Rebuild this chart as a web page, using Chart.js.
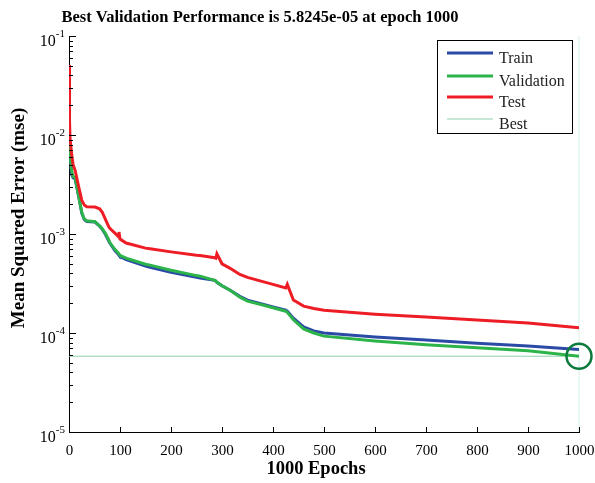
<!DOCTYPE html>
<html>
<head>
<meta charset="utf-8">
<script src="https://cdn.jsdelivr.net/npm/chart.js@4/dist/chart.umd.min.js"></script>
<style>
  html, body { margin: 0; padding: 0; background: #fff; }
  #wrap { width: 595px; height: 483px; }
</style>
</head>
<body>
<div id="wrap"><canvas id="perfChart" width="595" height="483"></canvas></div>
<script>
/* ===== DATA ===== */
const epochs = [0, 1, 2, 5, 8, 12, 19, 25, 30, 35, 51, 60, 65, 71, 78, 80, 90, 97, 98, 100,
  112, 150, 159, 200, 250, 257, 286, 288, 290, 300, 316, 335, 350, 380, 400, 425, 428, 440,
  460, 480, 500, 600, 700, 800, 900, 1000];

const trainMse = [9.5e-3, 7.5e-3, 6.3e-3, 4.0e-3, 3.7e-3, 3.6e-3, 2.4e-3, 1.63e-3, 1.40e-3, 1.34e-3,
  1.32e-3, 1.20e-3, 1.12e-3, 1.0e-3, 8.5e-4, 8.1e-4, 6.8e-4, 6.2e-4, 6.1e-4, 5.9e-4,
  5.5e-4, 4.75e-4, 4.6e-4, 4.1e-4, 3.65e-4, 3.6e-4, 3.4e-4, 3.35e-4, 3.25e-4, 3.0e-4,
  2.7e-4, 2.35e-4, 2.15e-4, 1.95e-4, 1.83e-4, 1.70e-4, 1.66e-4, 1.41e-4,
  1.15e-4, 1.05e-4, 1.0e-4, 9.1e-5, 8.5e-5, 7.9e-5, 7.4e-5, 6.8e-5];

const validationMse = [1.0e-2, 8.0e-3, 6.5e-3, 4.4e-3, 3.8e-3, 3.7e-3, 2.4e-3, 1.66e-3, 1.42e-3, 1.36e-3,
  1.33e-3, 1.21e-3, 1.13e-3, 1.02e-3, 8.7e-4, 8.2e-4, 7.0e-4, 6.4e-4, 6.3e-4, 6.1e-4,
  5.7e-4, 4.95e-4, 4.85e-4, 4.3e-4, 3.8e-4, 3.75e-4, 3.4e-4, 3.35e-4, 3.25e-4, 3.0e-4,
  2.7e-4, 2.3e-4, 2.1e-4, 1.92e-4, 1.80e-4, 1.66e-4, 1.62e-4, 1.36e-4,
  1.1e-4, 1.0e-4, 9.3e-5, 8.3e-5, 7.6e-5, 7.1e-5, 6.6e-5, 5.8245e-5];

const testMse = [5.1e-2, 1.4e-2, 9.3e-3, 6.6e-3, 5.0e-3, 4.4e-3, 3.0e-3, 2.2e-3, 1.96e-3, 1.88e-3,
  1.87e-3, 1.80e-3, 1.67e-3, 1.42e-3, 1.18e-3, 1.14e-3, 1.02e-3, 9.4e-4, 1.05e-3, 8.9e-4,
  8.1e-4, 7.2e-4, 7.1e-4, 6.6e-4, 6.1e-4, 6.05e-4, 5.75e-4, 5.7e-4, 6.3e-4, 5.0e-4,
  4.5e-4, 3.9e-4, 3.65e-4, 3.3e-4, 3.1e-4, 2.85e-4, 3.1e-4, 2.15e-4,
  1.87e-4, 1.77e-4, 1.70e-4, 1.55e-4, 1.45e-4, 1.35e-4, 1.26e-4, 1.13e-4];

const bestEpoch = 1000;
const bestPerf = 5.8245e-5;

const seriesNames = ["Train", "Validation", "Test", "Best"];
const xTicks = [0, 100, 200, 300, 400, 500, 600, 700, 800, 900, 1000];
const yExponents = [-1, -2, -3, -4, -5];

const titleText = "Best Validation Performance is 5.8245e-05 at epoch 1000";
const xTitle = "1000 Epochs";
const yTitle = "Mean Squared Error (mse)";

/* ===== COLOURS ===== */
const blue = "#2a4aa6";
const green = "#2cb34a";
const red = "#ee1d25";
const bestCol = "#8fd0ae";
const circleCol = "#0b7a3d";
const serif = "'Liberation Serif', 'Times New Roman', serif";

function pts(values) {
  return epochs.map((e, i) => ({ x: e, y: values[i] }));
}

/* ===== MATLAB STYLE AXES / LEGEND ===== */
const matlabAxes = {
  id: "matlabAxes",
  afterDraw(chart) {
    const ctx = chart.ctx;
    const xs = chart.scales.x;
    const ys = chart.scales.y;
    const area = chart.chartArea;
    ctx.save();
    ctx.strokeStyle = "#000";
    ctx.fillStyle = "#000";
    ctx.lineWidth = 1;

    // y ticks (inward) + labels
    for (let p = -5; p <= -1; p++) {
      for (let m = 1; m <= 9; m++) {
        const v = m * Math.pow(10, p);
        if (v > 0.1000001) break;
        const y = Math.round(ys.getPixelForValue(v)) + 0.5;
        const len = m === 1 ? 7 : 4;
        ctx.beginPath();
        ctx.moveTo(area.left, y);
        ctx.lineTo(area.left + len, y);
        ctx.stroke();
      }
    }
    yExponents.forEach((p) => {
      const y = ys.getPixelForValue(Math.pow(10, p));
      ctx.font = "11px " + serif;
      ctx.textAlign = "right";
      ctx.textBaseline = "alphabetic";
      const expStr = String(p);
      const expW = ctx.measureText(expStr).width;
      const right = area.left - 4;
      ctx.fillText(expStr, right, y + 1);
      ctx.font = "16px " + serif;
      ctx.fillText("10", right - expW, y + 10);
    });

    // x ticks (inward) + labels
    ctx.font = "15px " + serif;
    ctx.textAlign = "center";
    ctx.textBaseline = "alphabetic";
    xTicks.forEach((t) => {
      const x = Math.round(xs.getPixelForValue(t)) + 0.5;
      ctx.beginPath();
      ctx.moveTo(x, area.bottom);
      ctx.lineTo(x, area.bottom - 5);
      ctx.stroke();
      ctx.fillText(String(t), x, area.bottom + 23);
    });

    // titles
    ctx.font = "bold 16.5px " + serif;
    ctx.fillText(titleText, 260, 22);
    ctx.font = "bold 18.5px " + serif;
    ctx.fillText(xTitle, 316, 474);
    ctx.save();
    ctx.translate(24, 218);
    ctx.rotate(-Math.PI / 2);
    ctx.font = "bold 19px " + serif;
    ctx.fillText(yTitle, 0, 0);
    ctx.restore();

    // legend
    const lx = 437.5, ly = 40.5, lw = 135, lh = 93;
    ctx.fillStyle = "#fff";
    ctx.fillRect(lx, ly, lw, lh);
    ctx.strokeStyle = "#000";
    ctx.strokeRect(lx, ly, lw, lh);
    const rows = [53, 76, 97, 119];
    const cols = [blue, green, red, bestCol];
    ctx.font = "16px " + serif;
    ctx.textAlign = "left";
    rows.forEach((ry, i) => {
      ctx.strokeStyle = cols[i];
      ctx.lineWidth = i === 3 ? 1 : 3;
      ctx.beginPath();
      ctx.moveTo(447, ry);
      ctx.lineTo(493, ry);
      ctx.stroke();
      ctx.fillStyle = "#222";
      ctx.fillText(seriesNames[i], 499, ry + 10);
    });
    ctx.restore();
  },
};

/* ===== CHART ===== */
const ctx = document.getElementById("perfChart").getContext("2d");
const perfChart = new Chart(ctx, {
  type: "line",
  data: {
    datasets: [
      { label: "Test", data: pts(testMse), borderColor: red, borderWidth: 3, order: 0 },
      { label: "Validation", data: pts(validationMse), borderColor: green, borderWidth: 3, order: 1 },
      { label: "Train", data: pts(trainMse), borderColor: blue, borderWidth: 3, order: 2 },
      {
        label: "Best",
        data: [{ x: 0, y: bestPerf }, { x: bestEpoch, y: bestPerf }],
        borderColor: bestCol, borderWidth: 1, order: 3,
      },
      {
        label: "Best epoch",
        data: [{ x: bestEpoch, y: 1e-5 }, { x: bestEpoch, y: 1e-1 }],
        borderColor: "#d6eee2", borderWidth: 1, order: 4, clip: false,
      },
      {
        label: "Best point",
        type: "scatter",
        data: [{ x: bestEpoch, y: bestPerf }],
        pointRadius: 12.5,
        pointBorderWidth: 2.5,
        pointBorderColor: circleCol,
        pointBackgroundColor: "rgba(0,0,0,0)",
        clip: false,
        order: -1,
      },
    ],
  },
  options: {
    responsive: false,
    animation: false,
    layout: { padding: { left: 69, right: 16, top: 36, bottom: 51 } },
    elements: { point: { radius: 0 }, line: { tension: 0 } },
    plugins: { legend: { display: false }, tooltip: { enabled: false }, title: { display: false } },
    scales: {
      x: {
        type: "linear", min: 0, max: 1000,
        ticks: { display: false },
        grid: { display: false, drawTicks: false },
        border: { display: true, color: "#000", width: 1 },
      },
      y: {
        type: "logarithmic", min: 1e-5, max: 1e-1,
        ticks: { display: false },
        grid: { display: false, drawTicks: false },
        border: { display: true, color: "#000", width: 1 },
      },
    },
  },
  plugins: [matlabAxes],
});
</script>
</body>
</html>
